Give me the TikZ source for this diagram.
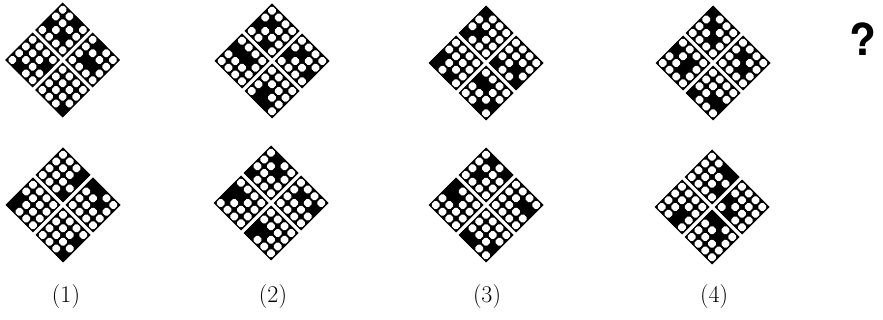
\documentclass[tikz,border=0pt]{standalone}
\usepackage{fontspec}
\newfontfamily\qfont{TeX Gyre Heros}
\newcommand{\subg}[3]{%
  \fill[black] (#1,#2-27.5) -- (#1+27.5,#2) -- (#1,#2+27.5) -- (#1-27.5,#2) -- cycle;
  \foreach \p in {0,1,2,3}{\foreach \q in {0,1,2,3}{%
    \fill[hole] ({#1+6.75*(\p-\q)},{#2+6.75*(\p+\q-3)-5.05}) -- ++(5.05,5.05) -- ++(-5.05,5.05) -- ++(-5.05,-5.05) -- cycle;}}
  \foreach \p/\q in {#3}{%
    \fill[black] ({#1+6.75*(\p-\q)},{#2+6.75*(\p+\q-3)-6.9}) -- ++(6.9,6.9) -- ++(-6.9,6.9) -- ++(-6.9,-6.9) -- cycle;}%
}
\newcommand{\comp}[6]{%
  \subg{#1}{#2-30}{#3}\subg{#1-30}{#2}{#4}\subg{#1+30}{#2}{#5}\subg{#1}{#2+30}{#6}}
\tikzset{
  hole/.style={fill=white, rounded corners=1.8pt},
  lbl/.style={font=\fontsize{24}{28}\selectfont, inner sep=0pt},
}
\begin{document}
\begin{tikzpicture}[x=1pt,y=-1pt]
\useasboundingbox (0,0) rectangle (883,320);
\fill[white] (0,0) rectangle (883,320);
% top row
\comp{62.7}{60}{0/2,2/0,2/2}{1/3,3/1}{1/2,1/0,2/2}{3/3}
\comp{272}{61}{0/2,1/1,2/3}{0/1,1/1,2/1}{0/2,1/1,3/2}{1/2,1/3,2/3}
\comp{486}{63}{0/0,0/3,1/2}{0/2,0/3,2/3}{0/3,2/2,3/3}{0/1,1/1,2/3,3/2}
\comp{713}{63}{0/0,1/1,2/2}{0/1,2/1,2/2}{1/1,2/2}{0/3,2/2,3/2}
% bottom row
\comp{63}{205}{3/0,3/1,3/3}{0/3,0/2}{0/0,1/0,2/1}{3/3,3/1}
\comp{271}{203}{0/3,2/1,1/0}{0/1,0/2,1/1}{1/1,3/1}{0/2,0/3,1/2}
\comp{486}{205}{1/0,1/2,3/0}{0/0,0/1,1/1}{2/1,3/1}{0/3,1/3,3/2}
\comp{712}{207}{2/0,3/0,3/2}{2/3,2/2}{0/2,1/3}{0/0,1/0,2/1}
% labels
\node[lbl] (l1) at (66,297) {(1)};
\node[lbl] (l2) at (273,297) {(2)};
\node[lbl] (l3) at (487,297) {(3)};
\node[lbl] (l4) at (714,297) {(4)};
\node[anchor=south west, inner sep=0pt, font=\qfont\bfseries\fontsize{44}{46}\selectfont] (q) at (849,56) {?};
\end{tikzpicture}
\end{document}
